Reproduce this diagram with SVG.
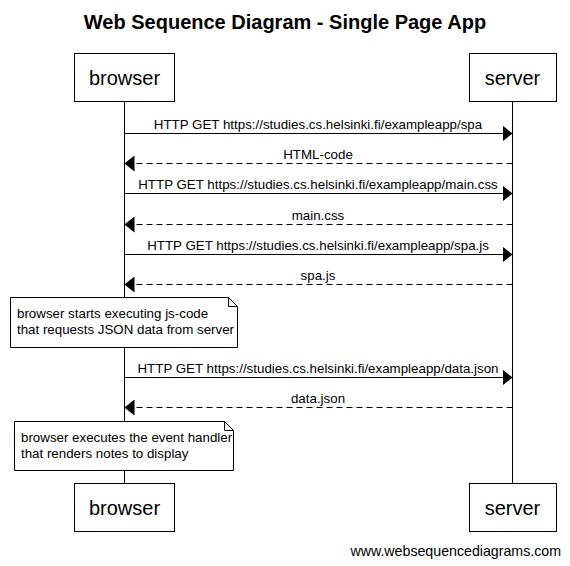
<svg xmlns="http://www.w3.org/2000/svg" width="570" height="566" viewBox="0 0 570 566">
  <defs>
    <style>
      .t { font-family: "Liberation Sans", Arial, sans-serif; fill: #000; }
      .title { font-size: 20px; font-weight: bold; }
      .part { font-size: 20px; }
      .msg { font-size: 13.33px; }
      .foot { font-size: 14.2px; }
      .box { fill: #fff; stroke: #000; stroke-width: 1; }
      .life { stroke: #000; stroke-width: 1; fill: none; }
      .solid { stroke: #000; stroke-width: 1; fill: none; }
      .dash { stroke: #000; stroke-width: 1; fill: none; stroke-dasharray: 6 4; }
    </style>
    <marker id="ah" viewBox="0 0 10 16" refX="10" refY="8" markerWidth="10" markerHeight="16" markerUnits="userSpaceOnUse" orient="auto">
      <path d="M0,0 L10,8 L0,16 Z" fill="#000"/>
    </marker>
  </defs>
  <rect width="570" height="566" fill="#fff"/>
  <text class="t title" x="285" y="29" text-anchor="middle">Web Sequence Diagram - Single Page App</text>

  <g id="lifelines">
    <line class="life" x1="124.5" y1="102" x2="124.5" y2="483"/>
    <line class="life" x1="512.5" y1="102" x2="512.5" y2="483"/>
  </g>

  <g id="browser-top">
    <rect class="box" x="74.5" y="53.5" width="100" height="48"/>
    <text class="t part" x="124.5" y="85" text-anchor="middle">browser</text>
  </g>
  <g id="server-top">
    <rect class="box" x="469.5" y="53.5" width="87" height="48"/>
    <text class="t part" x="512.5" y="85" text-anchor="middle">server</text>
  </g>

  <g id="connectors">
    <line class="solid" x1="124.5" y1="133.5" x2="512.5" y2="133.5" marker-end="url(#ah)"/>
    <text class="t msg" x="318" y="129" text-anchor="middle">HTTP GET https://studies.cs.helsinki.fi/exampleapp/spa</text>
    <line class="dash" x1="512.5" y1="163.5" x2="124.5" y2="163.5" marker-end="url(#ah)"/>
    <text class="t msg" x="318" y="159" text-anchor="middle">HTML-code</text>
    <line class="solid" x1="124.5" y1="193.5" x2="512.5" y2="193.5" marker-end="url(#ah)"/>
    <text class="t msg" x="318" y="189" text-anchor="middle">HTTP GET https://studies.cs.helsinki.fi/exampleapp/main.css</text>
    <line class="dash" x1="512.5" y1="224.5" x2="124.5" y2="224.5" marker-end="url(#ah)"/>
    <text class="t msg" x="318" y="220" text-anchor="middle">main.css</text>
    <line class="solid" x1="124.5" y1="254.5" x2="512.5" y2="254.5" marker-end="url(#ah)"/>
    <text class="t msg" x="318" y="250" text-anchor="middle">HTTP GET https://studies.cs.helsinki.fi/exampleapp/spa.js</text>
    <line class="dash" x1="512.5" y1="284.5" x2="124.5" y2="284.5" marker-end="url(#ah)"/>
    <text class="t msg" x="318" y="280" text-anchor="middle">spa.js</text>
    <line class="solid" x1="124.5" y1="377.5" x2="512.5" y2="377.5" marker-end="url(#ah)"/>
    <text class="t msg" x="318" y="373" text-anchor="middle">HTTP GET https://studies.cs.helsinki.fi/exampleapp/data.json</text>
    <line class="dash" x1="512.5" y1="407.5" x2="124.5" y2="407.5" marker-end="url(#ah)"/>
    <text class="t msg" x="318" y="403" text-anchor="middle">data.json</text>
  </g>

  <g id="note1">
    <path class="box" d="M10.5,297.5 H228.5 L237.5,306.5 V347.5 H10.5 Z"/>
    <path class="life" d="M228.5,297.5 V306.5 H237.5"/>
    <text class="t msg" x="17" y="318">browser starts executing js-code</text>
    <text class="t msg" x="17" y="334">that requests JSON data from server</text>
  </g>
  <g id="note2">
    <path class="box" d="M14.5,421.5 H224.5 L233.5,430.5 V470.5 H14.5 Z"/>
    <path class="life" d="M224.5,421.5 V430.5 H233.5"/>
    <text class="t msg" x="21" y="442">browser executes the event handler</text>
    <text class="t msg" x="21" y="458">that renders notes to display</text>
  </g>

  <g id="browser-bottom">
    <rect class="box" x="74.5" y="483.5" width="100" height="48"/>
    <text class="t part" x="124.5" y="515" text-anchor="middle">browser</text>
  </g>
  <g id="server-bottom">
    <rect class="box" x="469.5" y="483.5" width="87" height="48"/>
    <text class="t part" x="512.5" y="515" text-anchor="middle">server</text>
  </g>

  <text class="t foot" x="561" y="556" text-anchor="end">www.websequencediagrams.com</text>
</svg>
